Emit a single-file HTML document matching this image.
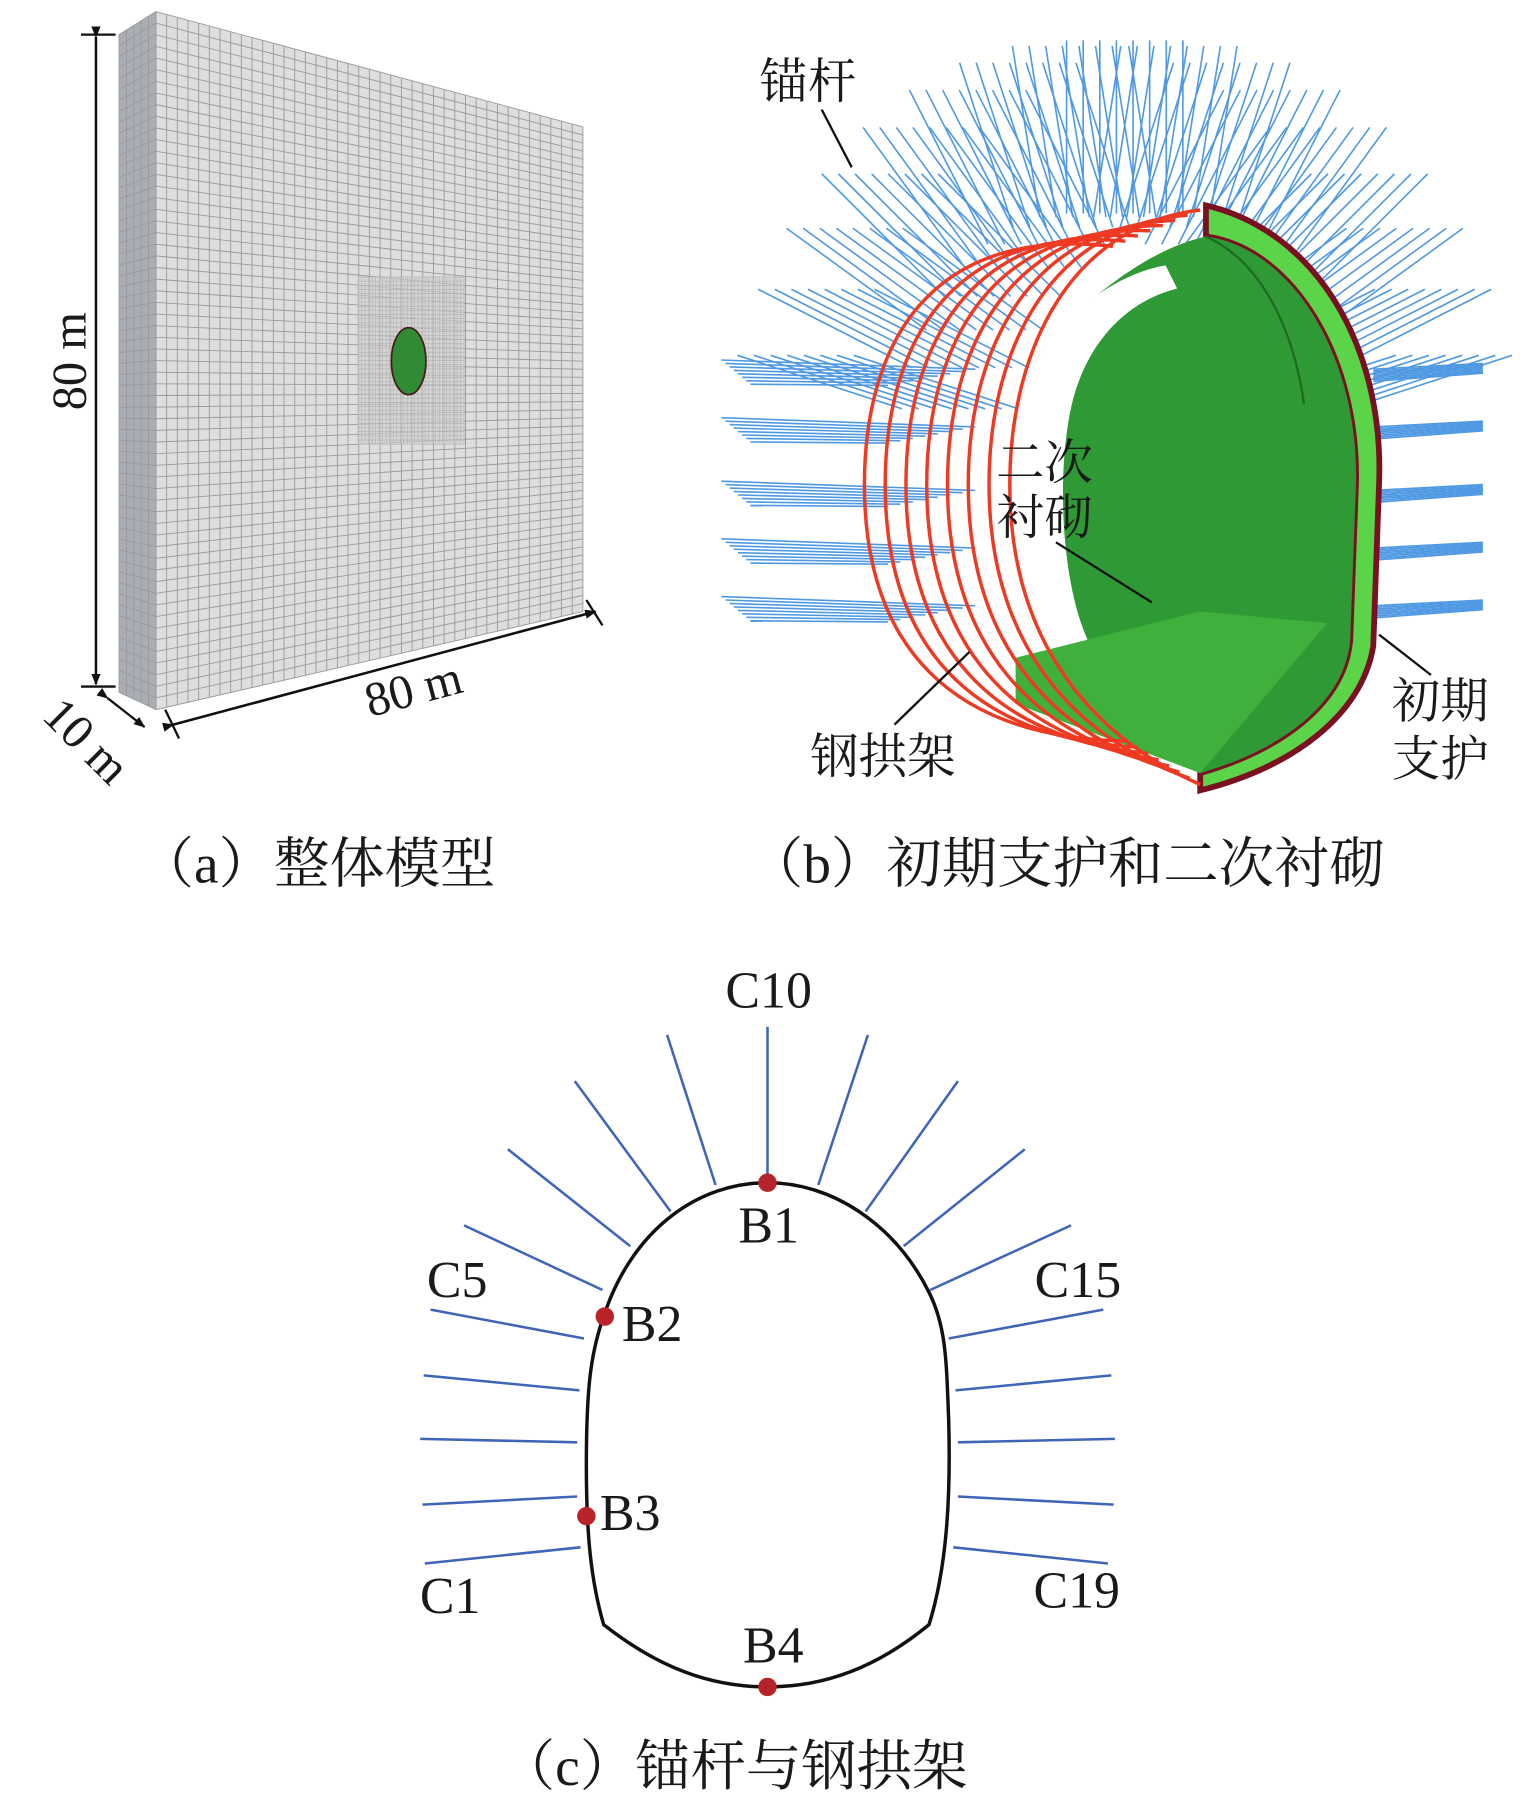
<!DOCTYPE html>
<html><head><meta charset="utf-8"><style>
html,body{margin:0;padding:0;background:#fff;}
svg{display:block;}
text{font-family:"Liberation Serif","Noto Serif CJK SC","Noto Sans CJK SC",serif;fill:#1a1a1a;}
</style></head><body>
<svg id="s" width="1535" height="1800" viewBox="0 0 1330 1560" xmlns="http://www.w3.org/2000/svg">
<defs>
<marker id="ar" markerWidth="10" markerHeight="10" refX="9" refY="5" orient="auto" markerUnits="userSpaceOnUse"><path d="M0,1 L10,5 L0,9 Z" fill="#111"/></marker>
</defs>
<polygon points="103,30 135,10 135,615 103,600" fill="#a9adb4"/>
<polygon points="135,10 505,110 505,530 135,615" fill="#dedede"/>
<g id="grid" stroke="#9a9a9a" stroke-width="0.8"></g>
<rect x="310" y="240" width="92" height="145" fill="#cfcfcf" opacity="0.6"/>
<g id="fine" stroke="#b0b0b0" stroke-width="0.5"></g>
<ellipse cx="354" cy="313" rx="15" ry="29" fill="#2f8c35" stroke="#4a1a1a" stroke-width="1.5"/>
<line x1="70" y1="30" x2="100" y2="30" stroke="#111" stroke-width="2"/>
<line x1="70" y1="595" x2="100" y2="595" stroke="#111" stroke-width="2"/>
<line x1="83" y1="32" x2="83" y2="593" stroke="#111" stroke-width="2.2" marker-start="url(#ar)" marker-end="url(#ar)"/>
<text x="60" y="313" font-size="42" text-anchor="middle" transform="rotate(-90 60 313)" dy="14">80 m</text>
<line x1="150" y1="628" x2="516" y2="530" stroke="#111" stroke-width="2.2" marker-start="url(#ar)" marker-end="url(#ar)"/>
<line x1="143" y1="615" x2="155" y2="640" stroke="#111" stroke-width="2"/>
<line x1="508" y1="520" x2="522" y2="542" stroke="#111" stroke-width="2"/>
<text x="358" y="597" font-size="42" text-anchor="middle" transform="rotate(-15 358 597)" dy="14">80 m</text>
<line x1="93" y1="605" x2="125" y2="630" stroke="#111" stroke-width="2" marker-start="url(#ar)" marker-end="url(#ar)"/>
<text x="75" y="642" font-size="42" text-anchor="middle" transform="rotate(45 75 642)" dy="14">10 m</text>
<text x="120" y="765" font-size="48">（a）整体模型</text>
<g id="bolts" stroke="#3d8ee0" stroke-width="1.4" opacity="0.9"></g>
<path d="M1045,178 C1140,200 1200,300 1195,420 L1190,560 C1180,620 1120,665 1040,685 L1040,670 C1110,650 1165,610 1170,555 L1175,420 C1178,310 1120,215 1045,205 Z" fill="#5bd44a" stroke="#7a1020" stroke-width="5"/>
<path d="M1045,205 C1000,215 950,250 905,300 C880,340 872,400 875,440 C878,520 900,570 930,585 C960,570 1040,560 1075,545 L1040,670 C1110,650 1165,610 1170,555 L1175,420 C1178,310 1120,215 1045,205 Z" fill="#2f9a35"/>
<path d="M1045,205 C1090,225 1120,280 1130,350" fill="none" stroke="#1c6d22" stroke-width="2"/>
<path d="M905,300 C940,255 980,235 1010,230 L1020,250 C980,260 950,290 935,330 C915,380 915,500 945,560 L930,585 C900,570 878,520 875,440 C872,400 880,340 905,300 Z" fill="#fff"/>
<path d="M880,570 L1040,530 L1150,540 L1040,670 L880,610 Z" fill="#3fb03c"/>
<g id="rings" fill="none" stroke="#ee3a22" stroke-width="3"></g>
<line x1="712" y1="95" x2="738" y2="145" stroke="#111" stroke-width="2"/>
<text x="700" y="85" font-size="42" text-anchor="middle">锚杆</text>
<text x="905" y="415" font-size="42" text-anchor="middle">二次</text>
<text x="905" y="463" font-size="42" text-anchor="middle">衬砌</text>
<line x1="915" y1="470" x2="998" y2="522" stroke="#111" stroke-width="2"/>
<text x="765" y="670" font-size="42" text-anchor="middle">钢拱架</text>
<line x1="775" y1="628" x2="840" y2="565" stroke="#111" stroke-width="2"/>
<text x="1248" y="622" font-size="42" text-anchor="middle">初期</text>
<text x="1248" y="672" font-size="42" text-anchor="middle">支护</text>
<line x1="1240" y1="585" x2="1195" y2="550" stroke="#111" stroke-width="2"/>
<text x="648" y="765" font-size="48">（b）初期支护和二次衬砌</text>
<g stroke="#3f64b8" stroke-width="2.2">
<line x1="665" y1="890" x2="665" y2="1023"/>
<line x1="578" y1="897" x2="620" y2="1027"/><line x1="498" y1="937" x2="581" y2="1050"/><line x1="440" y1="996" x2="546" y2="1080"/><line x1="402" y1="1062" x2="522" y2="1118"/><line x1="373" y1="1135" x2="506" y2="1160"/><line x1="367" y1="1192" x2="502" y2="1205"/><line x1="364" y1="1247" x2="500" y2="1250"/><line x1="366" y1="1304" x2="500" y2="1297"/><line x1="368" y1="1355" x2="503" y2="1341"/>
<line x1="752" y1="897" x2="709" y2="1027"/><line x1="830" y1="937" x2="750" y2="1050"/><line x1="888" y1="996" x2="783" y2="1080"/><line x1="928" y1="1062" x2="806" y2="1118"/><line x1="956" y1="1135" x2="822" y2="1160"/><line x1="963" y1="1192" x2="828" y2="1205"/><line x1="966" y1="1247" x2="830" y2="1250"/><line x1="965" y1="1304" x2="830" y2="1297"/><line x1="960" y1="1355" x2="826" y2="1341"/>
</g>
<path d="M665,1025 C720,1025 775,1060 805,1120 C820,1150 820,1180 822,1230 C824,1300 820,1360 805,1408 C760,1445 715,1462 665,1462 C615,1462 570,1445 523,1408 C512,1370 508,1330 508,1270 C508,1200 512,1170 525,1135 C550,1065 605,1025 665,1025 Z" fill="none" stroke="#111" stroke-width="3"/>
<g fill="#b8232a"><circle cx="665" cy="1025" r="8"/><circle cx="524" cy="1141" r="8"/><circle cx="508" cy="1314" r="8"/><circle cx="665" cy="1462" r="8"/></g>
<g font-size="45" text-anchor="middle">
<text x="666" y="873">C10</text><text x="396" y="1124">C5</text><text x="934" y="1124">C15</text><text x="390" y="1398">C1</text><text x="933" y="1393">C19</text>
<text x="666" y="1077">B1</text><text x="565" y="1162">B2</text><text x="546" y="1326">B3</text><text x="670" y="1441">B4</text>
</g>
<text x="433" y="1547" font-size="48">（c）锚杆与钢拱架</text>
</svg>
<script>
var NS="http://www.w3.org/2000/svg";
function ln(g,x1,y1,x2,y2){var l=document.createElementNS(NS,"line");l.setAttribute("x1",x1);l.setAttribute("y1",y1);l.setAttribute("x2",x2);l.setAttribute("y2",y2);g.appendChild(l);}
var g=document.getElementById("grid");
for(var i=0;i<=40;i++){var t=i/40;var x=135+370*t;ln(g,x,10+100*t,x,615-85*t);}
for(var j=0;j<=60;j++){var u=j/60;ln(g,135,10+605*u,505,110+420*u);}
for(var k=0;k<=5;k++){var x=103+32*k/5;ln(g,x,30-20*k/5,x,600+15*k/5);}
for(var j=0;j<=60;j++){var u=j/60;ln(g,103,30+570*u,135,10+605*u);}
var f=document.getElementById("fine");
for(var i=0;i<=30;i++){ln(f,310+92*i/30,240,310+92*i/30,385);}
for(var i=0;i<=40;i++){ln(f,310,240+145*i/40,402,240+145*i/40);}
var b=document.getElementById("bolts");
for(var r=0;r<8;r++){var s=r*18;var cx=1025-s*0.8,cy=430;
 for(var a=0;a<=16;a++){var ang=Math.PI*(1.1+0.8*a/16);var ca=Math.cos(ang),sa=Math.sin(ang);
  var x1=cx+150*ca,y1=cy+245*sa;var L=150;
  ln(b,x1,y1,x1+L*ca,y1+L*sa);}
 var ys=[320,370,425,475,525];
 for(var q=0;q<5;q++){ln(b,845-s*0.6,ys[q]+r*2,625+s*0.2,ys[q]-8+r*3);ln(b,1190,ys[q]+r*1.5,1285,ys[q]-5+r*1.2);}
}
var rg=document.getElementById("rings");
for(var r=0;r<8;r++){var s=r*18;var p=document.createElementNS(NS,"path");
 p.setAttribute("d","M"+(1040-s*0.6)+","+(182+s*0.25)+" C"+(930-s)+",195 "+(875-s)+",300 "+(875-s)+",420 C"+(875-s)+",560 "+(950-s)+",640 "+(1040-s*0.5)+","+(680-s*0.3));
 rg.appendChild(p);}
</script>
</body></html>
